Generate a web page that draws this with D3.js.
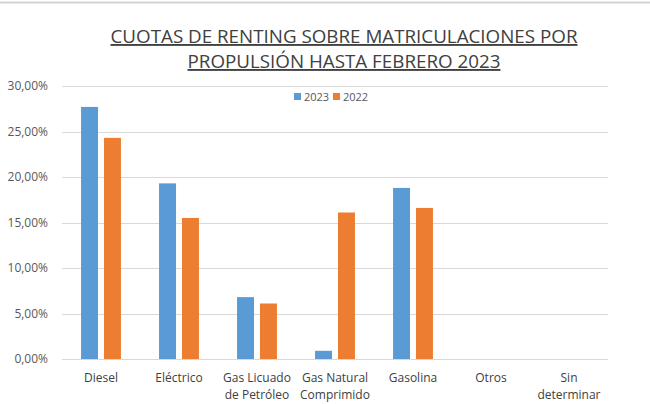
<!DOCTYPE html>
<html>
<head>
<meta charset="utf-8">
<script src="https://cdn.jsdelivr.net/npm/d3@7"></script>
<style>
  body { margin: 0; background: #fff; }
  svg text { font-family: "Open Sans", "Noto Sans", sans-serif; }
</style>
</head>
<body>
<script>
const categories = [
  ["Diesel"],
  ["Eléctrico"],
  ["Gas Licuado", "de Petróleo"],
  ["Gas Natural", "Comprimido"],
  ["Gasolina"],
  ["Otros"],
  ["Sin", "determinar"],
];
const values2023 = [27.7, 19.3, 6.8, 0.9, 18.8, 0, 0];
const values2022 = [24.3, 15.5, 6.1, 16.1, 16.6, 0, 0];
const seriesNames = ["2023", "2022"];
const yTicks = [0, 5, 10, 15, 20, 25, 30];

const width = 650, height = 404;
const margin = { left: 62, right: 42, top: 86, bottom: 45 };
const colors = ["#5b9bd5", "#ed7d31"];

const svg = d3.select("body").append("svg")
  .attr("width", width)
  .attr("height", height);

svg.append("line")
  .attr("x1", 0).attr("x2", width)
  .attr("y1", 2.5).attr("y2", 2.5)
  .attr("stroke", "#d4d4d4").attr("stroke-width", 2);

const x = d3.scaleBand()
  .domain(d3.range(categories.length))
  .range([margin.left, width - margin.right]);

const x1 = d3.scaleBand()
  .domain([0, 1])
  .range([0, x.bandwidth()])
  .paddingInner(0.26)
  .paddingOuter(0.83);

const y = d3.scaleLinear()
  .domain([0, 30])
  .range([height - margin.bottom, margin.top]);

// gridlines
svg.append("g")
  .selectAll("line")
  .data(yTicks)
  .enter()
  .append("line")
  .attr("x1", margin.left)
  .attr("x2", width - margin.right)
  .attr("y1", (d) => Math.round(y(d)) + 0.5)
  .attr("y2", (d) => Math.round(y(d)) + 0.5)
  .attr("stroke", "#d9d9d9")
  .attr("stroke-width", 1);

// y axis labels
const yAxis = svg.append("g")
  .attr("transform", `translate(${margin.left - 11},0)`)
  .call(d3.axisLeft(y).tickValues(yTicks).tickSize(0)
    .tickFormat((d) => d3.format(".2f")(d).replace(".", ",") + "%"));
yAxis.select(".domain").remove();
yAxis.selectAll("text")
  .attr("fill", "#595959")
  .style("font-size", "12px");

// bars
const series = [values2023, values2022];
series.forEach(function (vals, s) {
  svg.append("g")
    .selectAll("rect")
    .data(vals)
    .enter()
    .append("rect")
    .attr("x", (d, i) => x(i) + x1(s))
    .attr("width", x1.bandwidth())
    .attr("y", (d) => y(d))
    .attr("height", (d) => y(0) - y(d))
    .attr("fill", colors[s]);
});

// x labels
const xl = svg.append("g")
  .selectAll("text")
  .data(categories)
  .enter()
  .append("text")
  .attr("x", (d, i) => x(i) + x.bandwidth() / 2)
  .attr("y", 382)
  .attr("text-anchor", "middle")
  .attr("fill", "#404040")
  .style("font-size", "12px");
xl.selectAll("tspan")
  .data((d) => d)
  .enter()
  .append("tspan")
  .attr("x", function () { return d3.select(this.parentNode).attr("x"); })
  .attr("dy", (d, i) => (i === 0 ? 0 : 17))
  .text((d) => d);

// title
const title = ["CUOTAS DE RENTING SOBRE MATRICULACIONES POR", "PROPULSIÓN HASTA FEBRERO 2023"];
svg.append("g")
  .selectAll("text")
  .data(title)
  .enter()
  .append("text")
  .attr("x", 344)
  .attr("y", (d, i) => 43 + i * 25)
  .attr("text-anchor", "middle")
  .attr("fill", "#404040")
  .style("font-size", "18.8px")
  .style("text-decoration", "underline")
  .text((d) => d);

// legend
const legend = svg.append("g")
  .selectAll("g")
  .data(seriesNames)
  .enter()
  .append("g")
  .attr("transform", (d, i) => `translate(${294 + i * 39},93)`);
legend.append("rect")
  .attr("width", 7).attr("height", 7)
  .attr("fill", (d, i) => colors[i]);
legend.append("text")
  .attr("x", 10).attr("y", 7.5)
  .attr("fill", "#595959")
  .style("font-size", "11px")
  .text((d) => d);
</script>
</body>
</html>
